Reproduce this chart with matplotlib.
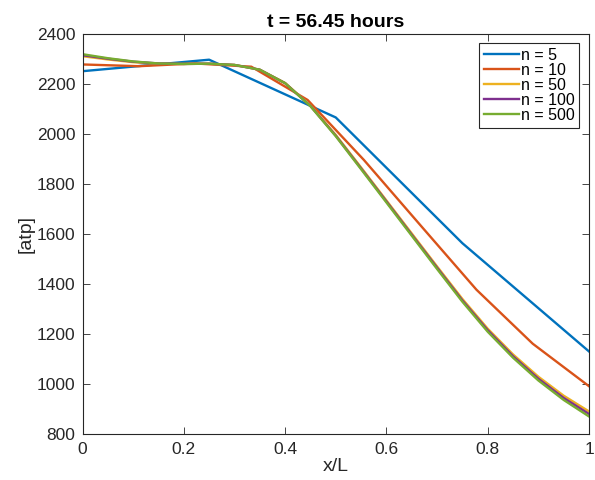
import matplotlib
matplotlib.use("Agg")
import matplotlib.pyplot as plt

plt.rcParams['font.family'] = ['Liberation Sans', 'DejaVu Sans']

# values
x_n5 = [0, 0.25, 0.5, 0.75, 1.0]
y_n5 = [2250, 2296, 2065, 1562, 1129]

x_n10 = [0, 1/9, 2/9, 3/9, 4/9, 5/9, 6/9, 7/9, 8/9, 1.0]
y_n10 = [2277, 2270, 2281, 2268, 2135, 1895, 1635, 1376, 1160, 990]

# finer solutions, read every 0.05
x_fine = [0, 0.05, 0.1, 0.15, 0.2, 0.25, 0.3, 0.35, 0.4, 0.45, 0.5,
          0.55, 0.6, 0.65, 0.7, 0.75, 0.8, 0.85, 0.9, 0.95, 1.0]
y_n50 = [2310, 2297, 2286, 2280, 2279, 2280, 2275, 2256, 2203, 2113, 1995,
         1865, 1733, 1601, 1469, 1339, 1220, 1117, 1028, 952, 889]
y_n100 = [2314, 2300, 2288, 2281, 2279, 2280, 2275, 2256, 2202, 2111, 1992,
          1861, 1729, 1596, 1464, 1333, 1214, 1110, 1020, 943, 879]
y_n500 = [2318, 2302, 2289, 2281, 2279, 2280, 2275, 2256, 2202, 2110, 1990,
          1858, 1725, 1592, 1459, 1328, 1208, 1104, 1013, 935, 869]

labels = ['n = 5', 'n = 10', 'n = 50', 'n = 100', 'n = 500']
colors = ['#0072BD', '#D95319', '#EDB120', '#7E2F8E', '#77AC30']

xticks = [0, 0.2, 0.4, 0.6, 0.8, 1.0]
xtick_labels = ['0', '0.2', '0.4', '0.6', '0.8', '1']
yticks = [800, 1000, 1200, 1400, 1600, 1800, 2000, 2200, 2400]

fig = plt.figure(figsize=(5.95, 4.8), dpi=100)
ax = fig.add_axes([82.5 / 595, 46.3 / 480, 506.5 / 595, 400 / 480])

series = [(x_n5, y_n5), (x_n10, y_n10), (x_fine, y_n50),
          (x_fine, y_n100), (x_fine, y_n500)]
for (xs, ys), lab, c in zip(series, labels, colors):
    ax.plot(xs, ys, color=c, lw=1.7, label=lab)

ax.set_xlim(0, 1)
ax.set_ylim(800, 2400)
ax.set_xticks(xticks)
ax.set_xticklabels(xtick_labels)
ax.set_yticks(yticks)

dark = '#262626'
for sp in ax.spines.values():
    sp.set_color(dark)
    sp.set_linewidth(0.8)
ax.tick_params(direction='in', length=5, width=0.6, colors=dark,
               labelsize=12.5, top=True, right=True)
ax.tick_params(axis='x', pad=6)
ax.tick_params(axis='y', pad=5)

ax.set_title('t = 56.45 hours', fontsize=14, fontweight='bold', pad=5)
ax.set_xlabel('x/L', fontsize=14, color=dark, labelpad=1)
ax.set_ylabel('[atp]', fontsize=14, color=dark, labelpad=2)

leg = ax.legend(loc='upper right', fontsize=11.5, handlelength=2.2,
                handletextpad=0.1, labelspacing=0.0, borderpad=0.3,
                borderaxespad=0.6, fancybox=False, framealpha=1)
leg.get_frame().set_edgecolor(dark)
leg.get_frame().set_linewidth(0.8)

fig.savefig('out.png', dpi=100)
